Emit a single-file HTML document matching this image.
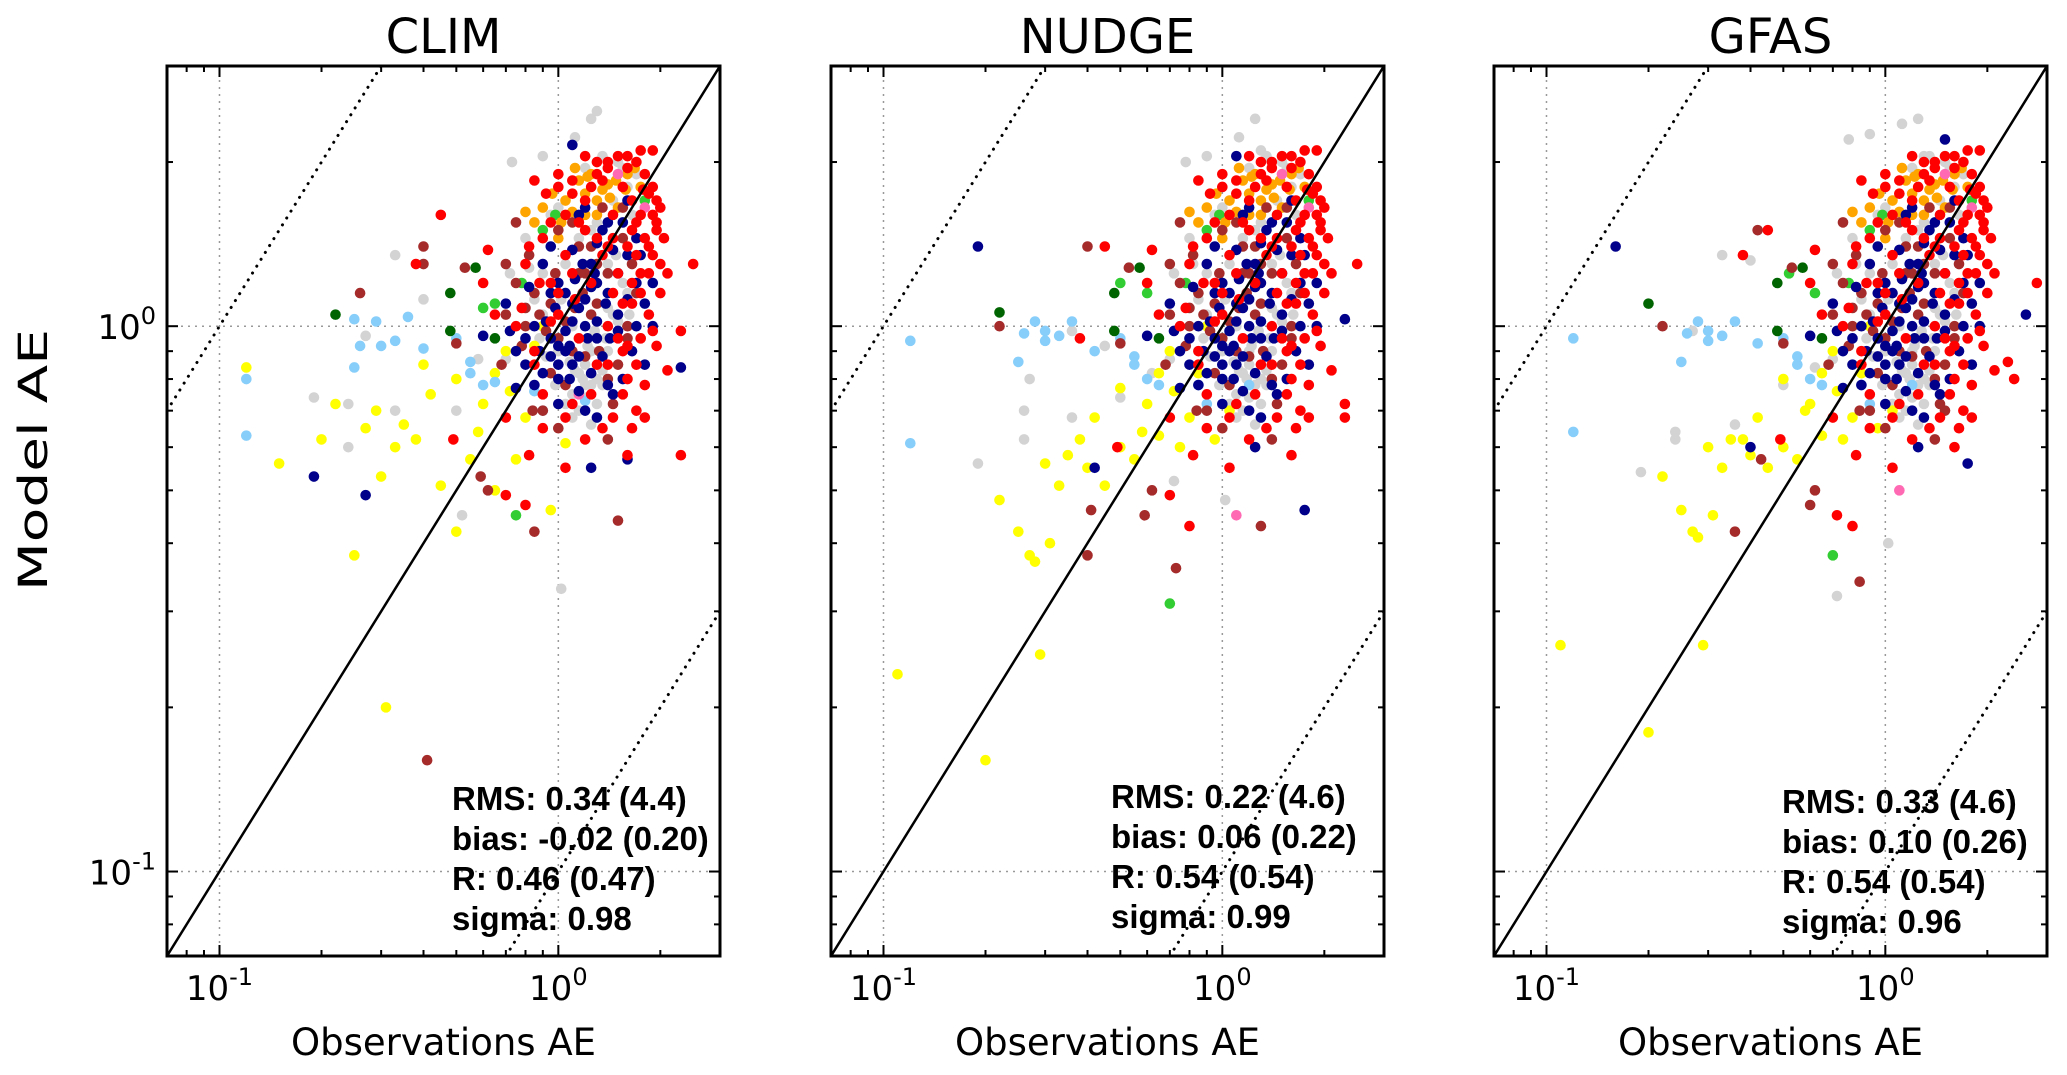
<!DOCTYPE html>
<html><head><meta charset="utf-8">
<style>
html,body{margin:0;padding:0;background:#fff;}
svg{display:block;font-family:"Liberation Sans",Arial,sans-serif;}
</style></head>
<body>
<svg id="chart" width="2067" height="1075" viewBox="0 0 2067 1075" xmlns="http://www.w3.org/2000/svg">
<text x="36" y="460" transform="rotate(-90 36 460)" text-anchor="middle" dominant-baseline="middle" font-size="40" textLength="262" lengthAdjust="spacingAndGlyphs" style="font-family:'DejaVu Sans',sans-serif">Model AE</text>
</svg>
<script>
const panelTitles = ["CLIM", "NUDGE", "GFAS"];
const statLines = [
  ["RMS: 0.34 (4.4)", "bias: -0.02 (0.20)", "R: 0.46 (0.47)", "sigma: 0.98"],
  ["RMS: 0.22 (4.6)", "bias: 0.06 (0.22)", "R: 0.54 (0.54)", "sigma: 0.99"],
  ["RMS: 0.33 (4.6)", "bias: 0.10 (0.26)", "R: 0.54 (0.54)", "sigma: 0.96"]
];
const axisMin = 0.07, axisMax = 3;
const majorTicks = [0.1, 1];
const majorTickExp = ["-1", "0"];
const minorTicks = [0.08, 0.09, 0.2, 0.3, 0.4, 0.5, 0.6, 0.7, 0.8, 0.9, 2, 3];
const seriesNames = ["gray","yellow","sky","darkgreen","green","orange","brown","pink","navy","red"];
const seriesColors = ["#d3d3d3","#ffff00","#87cefa","#006400","#32cd32","#ffa500","#a52a2a","#ff69b4","#00008b","#ff0000"];

const clusterGray = [[1.05,0.72],[1.1,0.75],[1.15,0.7],[1.2,0.74],[1.25,0.78],[1.18,0.8],[1.12,0.83],[1.08,0.86],[1.3,0.72],[1.35,0.83],[1.22,0.92],[1.28,0.98],[1.4,1.08],[1.5,1.02],[1.55,1.2],[1.0,0.9],[0.92,0.88],[0.85,1.12],[0.9,1.25],[1.05,1.3],[1.15,1.45],[1.3,1.55],[1.45,1.7],[1.55,1.95],[1.7,1.9],[1.35,2.05],[1.2,1.95],[0.95,1.6],[0.8,1.45],[0.72,1.25],[1.62,1.05],[1.75,0.95],[1.1,0.68],[1.25,0.66],[0.98,0.78],[1.38,0.95],[1.48,1.35],[1.65,1.6],[0.88,0.95],[1.02,1.12]];
const clusterOrange = [[1.15,1.85],[1.22,1.88],[1.35,1.78],[1.42,1.72],[1.48,1.85],[1.05,1.7],[0.9,1.65],[0.85,1.55],[1.0,1.45],[1.3,1.6],[1.58,1.78],[1.68,1.95],[0.8,1.62],[1.12,1.95],[1.2,1.6]];
const clusterBrown = [[0.85,1.15],[0.88,1.05],[0.92,0.98],[1.0,0.95],[1.05,1.02],[1.12,1.08],[1.18,1.15],[1.25,1.05],[1.32,0.9],[1.4,0.8],[1.05,0.78],[0.95,0.82],[0.78,0.92],[0.7,1.05],[0.75,1.2],[0.82,1.35],[1.0,1.5],[1.1,1.55],[1.25,1.4],[1.4,1.25],[1.55,1.45],[1.65,1.3],[1.7,1.15],[1.5,0.85],[1.2,0.88],[0.98,1.25],[1.35,1.65],[1.55,1.65],[0.9,0.7],[1.45,0.72],[0.68,0.85],[1.15,1.25],[1.3,1.3],[1.6,0.95],[0.8,1.08]];
const clusterNavy = [[0.85,0.78],[0.9,0.82],[0.95,0.88],[1.0,0.92],[1.05,0.98],[1.1,1.02],[1.15,1.08],[1.2,1.12],[1.25,1.18],[1.0,0.85],[1.08,0.8],[1.15,0.88],[1.22,0.95],[1.3,1.02],[1.38,1.1],[0.92,1.02],[0.98,1.08],[1.05,1.15],[1.12,1.22],[1.18,1.3],[0.88,0.9],[0.8,0.95],[0.75,0.9],[1.35,0.88],[1.42,0.95],[1.5,0.98],[1.6,1.12],[1.7,1.2],[1.45,1.38],[1.3,1.42],[1.1,1.38],[0.95,1.15],[1.25,0.82],[1.4,0.78],[1.55,0.8],[1.65,0.9],[1.8,1.1],[1.2,1.65],[1.4,1.55],[1.55,1.55],[1.0,0.72],[1.15,0.76],[1.3,0.68],[0.82,1.18],[0.72,0.98],[1.75,1.35],[1.9,1.0],[1.6,1.7],[1.08,0.92],[1.28,1.25]];
const clusterRed = [[1.3,1.9],[1.4,1.95],[1.5,2.05],[1.6,1.95],[1.7,2.0],[1.8,1.9],[1.85,1.75],[1.9,1.8],[1.95,1.7],[2.0,1.65],[1.75,1.6],[1.65,1.5],[1.6,1.4],[1.7,1.35],[1.8,1.45],[1.9,1.35],[2.0,1.3],[1.85,1.25],[1.75,1.15],[1.65,1.2],[1.55,1.1],[1.45,1.15],[1.5,0.95],[1.6,0.92],[1.7,0.85],[1.75,0.95],[1.9,0.98],[1.2,1.7],[1.1,1.85],[1.0,1.8],[0.92,1.75],[0.95,1.55],[1.05,1.6],[1.15,1.55],[1.3,1.45],[1.35,1.35],[1.25,1.2],[1.45,1.45],[0.82,1.4],[0.88,1.2],[0.95,1.02],[1.0,1.15],[0.78,1.08],[0.85,0.85],[1.1,0.72],[1.2,0.62],[1.35,0.65],[1.45,0.68],[1.65,0.65],[1.8,0.68],[1.55,0.75],[1.4,0.85],[1.25,0.75],[0.9,0.65],[1.05,0.68],[1.12,1.12],[1.55,1.8],[1.78,1.78],[1.95,1.55],[2.05,1.45]];

const climGray = [[0.19,0.74],[0.24,0.72],[0.24,0.6],[0.27,0.96],[0.33,0.7],[0.33,1.35],[0.4,1.12],[0.5,0.7],[0.58,0.87],[1.02,0.33],[0.52,0.45],[0.82,1.28],[0.73,2.0],[0.9,2.05],[1.12,2.22],[1.25,2.4],[1.3,2.48],[1.25,1.5],[1.15,0.82],[1.2,0.85],[1.3,0.8],[1.4,0.9],[1.1,1.0],[1.6,1.15],[0.9,1.05],[1.4,1.3],[0.7,0.87],[1.35,0.78],[1.0,1.65],[1.2,0.78],[1.25,0.9],[1.45,1.05],[1.6,1.8],[1.5,2.0]];
const climYellow = [[0.12,0.84],[0.15,0.56],[0.25,0.38],[0.31,0.2],[0.2,0.62],[0.22,0.72],[0.27,0.65],[0.3,0.53],[0.33,0.6],[0.38,0.62],[0.42,0.75],[0.45,0.51],[0.5,0.8],[0.55,0.57],[0.6,0.72],[0.65,0.5],[0.5,0.42],[0.75,0.57],[0.8,0.68],[0.95,0.46],[0.72,0.76],[0.85,0.92],[0.35,0.66],[0.29,0.7],[1.05,0.61],[0.65,0.82],[0.7,0.9],[0.9,1.0],[0.4,0.85],[0.58,0.64]];
const climSky = [[0.12,0.8],[0.12,0.63],[0.25,1.03],[0.29,1.02],[0.36,1.04],[0.3,0.92],[0.33,0.94],[0.25,0.84],[0.4,0.91],[0.26,0.92],[0.5,0.95],[0.55,0.82],[0.6,0.78],[0.65,0.79],[0.55,0.86],[1.2,0.73],[0.85,0.76],[0.9,0.7]];
const climDarkgreen = [[0.22,1.05],[0.48,1.15],[0.57,1.28],[0.48,0.98],[0.65,0.95]];
const climGreen = [[0.6,1.08],[0.75,0.45],[0.65,1.1],[0.9,1.5],[0.98,1.6],[1.8,1.7],[0.78,1.2]];
const climOrange = [[1.02,1.55],[1.2,1.75],[1.4,1.82],[1.5,1.65],[0.96,1.75],[1.1,1.62],[1.3,1.7],[1.6,1.9],[1.75,1.8],[1.25,1.9]];
const climBrown = [[0.26,1.15],[0.4,1.4],[0.4,1.3],[0.53,1.28],[0.59,0.53],[0.85,0.42],[0.41,0.16],[1.5,0.44],[0.84,0.7],[0.95,1.1],[1.1,0.9],[1.2,1.25],[0.75,1.55],[0.62,0.5],[0.5,0.93],[1.4,0.62],[1.0,0.65],[0.8,1.0],[1.15,1.4],[1.3,1.1],[1.6,1.0],[0.7,1.3]];
const climPink = [[1.5,1.9],[1.15,0.75],[1.8,1.65]];
const climNavy = [[0.19,0.53],[0.27,0.49],[1.25,0.55],[1.6,0.57],[1.1,2.15],[2.3,0.84],[0.6,0.96],[0.75,0.77],[0.85,1.0],[0.95,0.95],[1.0,1.2],[1.05,0.9],[1.1,1.1],[1.2,1.0],[1.25,1.3],[1.3,0.95],[1.4,1.15],[1.5,1.05],[1.6,1.35],[1.7,1.0],[1.8,0.85],[1.9,1.2],[0.9,1.3],[1.15,1.6],[1.35,1.5],[0.8,0.85],[1.0,0.8],[1.2,0.7],[1.45,0.75],[1.7,1.45],[0.7,1.1],[1.3,1.2],[1.1,0.85],[0.95,1.4],[1.5,1.25]];
const climRed = [[0.49,0.62],[0.45,1.6],[0.38,1.3],[0.62,1.38],[0.85,1.85],[0.7,0.49],[0.8,0.47],[0.82,0.58],[0.9,0.75],[1.8,0.78],[1.6,0.58],[2.3,0.58],[2.3,0.98],[2.5,1.3],[2.1,1.25],[2.0,1.15],[1.95,0.92],[2.1,0.83],[1.9,2.1],[1.75,2.1],[1.6,2.05],[1.3,2.0],[1.0,1.9],[1.1,1.75],[1.2,1.5],[1.4,1.4],[1.5,1.25],[1.7,1.55],[1.85,1.4],[1.9,1.6],[1.65,1.7],[1.25,1.8],[1.05,1.35],[0.95,1.2],[0.9,1.45],[0.8,1.3],[0.75,1.0],[0.85,0.9],[1.0,1.05],[1.1,1.25],[1.15,0.95],[1.3,0.85],[1.4,1.0],[1.55,0.9],[1.65,1.1],[1.75,1.25],[1.85,1.05],[1.95,1.5],[1.45,1.6],[1.35,1.85],[0.7,0.68],[0.65,1.05],[1.6,0.8],[1.05,0.55],[1.7,0.7],[0.6,1.2],[1.4,2.0],[1.2,2.05]];

const nudgeGray = [[0.19,0.56],[0.26,0.62],[0.26,0.7],[0.27,0.8],[0.36,0.68],[0.36,0.98],[0.45,0.92],[0.5,0.74],[0.62,0.82],[1.02,0.48],[0.72,0.52],[0.82,1.3],[0.78,2.0],[0.9,2.05],[1.12,2.22],[1.25,2.4],[1.3,2.1],[1.25,1.5],[1.15,0.82],[1.2,0.85],[1.3,0.8],[1.4,0.9],[1.1,1.0],[1.6,1.15],[0.9,1.05],[1.4,1.3],[0.7,0.87],[1.35,0.78],[1.0,1.65],[1.2,0.9],[1.25,0.95],[1.45,1.05],[1.6,1.8],[1.5,2.0]];
const nudgeYellow = [[0.11,0.23],[0.2,0.16],[0.25,0.42],[0.29,0.25],[0.22,0.48],[0.27,0.38],[0.28,0.37],[0.31,0.4],[0.3,0.56],[0.38,0.62],[0.42,0.68],[0.45,0.51],[0.5,0.77],[0.55,0.57],[0.6,0.72],[0.65,0.63],[0.5,0.6],[0.75,0.6],[0.8,0.68],[0.95,0.62],[0.72,0.76],[0.85,0.82],[0.35,0.58],[0.33,0.51],[1.05,0.7],[0.65,0.82],[0.7,0.9],[0.9,1.0],[0.4,0.55],[0.58,0.64]];
const nudgeSky = [[0.12,0.94],[0.12,0.61],[0.26,0.97],[0.3,0.98],[0.36,1.02],[0.3,0.94],[0.33,0.96],[0.25,0.86],[0.42,0.9],[0.28,1.02],[0.5,0.95],[0.55,0.85],[0.6,0.8],[0.65,0.78],[0.55,0.88],[1.2,0.78],[0.85,0.78],[0.9,0.72]];
const nudgeDarkgreen = [[0.22,1.06],[0.48,1.15],[0.57,1.28],[0.48,0.98],[0.65,0.95]];
const nudgeGreen = [[0.5,1.2],[0.7,0.31],[0.6,1.15],[0.9,1.5],[0.98,1.6],[1.8,1.7],[0.78,1.2]];
const nudgeOrange = [[1.02,1.55],[1.2,1.75],[1.4,1.82],[1.5,1.65],[0.96,1.75],[1.1,1.62],[1.3,1.7],[1.6,1.9],[1.75,1.8],[1.25,1.9]];
const nudgeBrown = [[0.22,1.0],[0.4,1.4],[0.4,0.38],[0.53,1.28],[0.59,0.45],[0.73,0.36],[0.41,0.46],[1.3,0.43],[0.84,0.7],[0.95,1.1],[1.1,0.9],[1.2,1.25],[0.75,1.55],[0.62,0.5],[0.5,0.93],[1.4,0.62],[1.0,0.65],[0.8,1.0],[1.15,1.4],[1.3,1.1],[1.6,1.0],[0.7,1.3]];
const nudgePink = [[1.5,1.9],[1.1,0.45],[1.8,1.65]];
const nudgeNavy = [[0.19,1.4],[0.42,0.55],[1.25,0.6],[1.75,0.46],[1.1,2.05],[2.3,1.03],[0.6,0.96],[0.75,0.77],[0.85,1.0],[0.95,0.95],[1.0,1.2],[1.05,0.9],[1.1,1.1],[1.2,1.0],[1.25,1.3],[1.3,0.95],[1.4,1.15],[1.5,1.05],[1.6,1.35],[1.7,1.0],[1.8,0.85],[1.9,1.2],[0.9,1.3],[1.15,1.6],[1.35,1.5],[0.8,0.85],[1.0,0.8],[1.2,0.7],[1.45,0.75],[1.7,1.45],[0.7,1.1],[1.3,1.2],[1.1,0.85],[0.95,1.4],[1.5,1.25]];
const nudgeRed = [[0.49,0.6],[0.45,1.4],[0.38,0.95],[0.62,1.38],[0.85,1.85],[0.7,0.49],[0.8,0.43],[0.82,0.58],[0.9,0.75],[1.8,0.78],[1.6,0.58],[2.3,0.72],[2.3,0.68],[2.5,1.3],[2.1,1.25],[2.0,1.15],[1.95,0.92],[2.1,0.83],[1.9,2.1],[1.75,2.1],[1.6,2.05],[1.3,2.0],[1.0,1.9],[1.1,1.75],[1.2,1.5],[1.4,1.4],[1.5,1.25],[1.7,1.55],[1.85,1.4],[1.9,1.6],[1.65,1.7],[1.25,1.8],[1.05,1.35],[0.95,1.2],[0.9,1.45],[0.8,1.3],[0.75,1.0],[0.85,0.9],[1.0,1.05],[1.1,1.25],[1.15,0.95],[1.3,0.85],[1.4,1.0],[1.55,0.9],[1.65,1.1],[1.75,1.25],[1.85,1.05],[1.95,1.5],[1.45,1.6],[1.35,1.85],[0.7,0.68],[0.65,1.05],[1.6,0.8],[1.05,0.55],[1.7,0.7],[0.6,1.2],[1.4,2.0],[1.2,2.05]];

const gfasGray = [[0.19,0.54],[0.24,0.64],[0.24,0.62],[0.27,0.98],[0.36,0.66],[0.33,1.35],[0.4,1.32],[0.5,0.78],[0.62,0.84],[1.02,0.4],[0.72,0.32],[0.82,1.3],[0.78,2.2],[0.9,2.25],[1.12,2.35],[1.25,2.4],[1.3,2.05],[1.25,1.5],[1.15,0.82],[1.2,0.85],[1.3,0.8],[1.4,0.9],[1.1,1.0],[1.6,1.15],[0.9,1.05],[1.4,1.3],[0.7,0.87],[1.35,0.78],[1.0,1.65],[1.2,0.9],[1.25,0.95],[1.45,1.05],[1.6,1.8],[1.5,2.0]];
const gfasYellow = [[0.11,0.26],[0.2,0.18],[0.25,0.46],[0.29,0.26],[0.22,0.53],[0.27,0.42],[0.28,0.41],[0.31,0.45],[0.3,0.6],[0.38,0.62],[0.42,0.68],[0.45,0.55],[0.5,0.8],[0.55,0.57],[0.6,0.72],[0.65,0.63],[0.5,0.6],[0.75,0.62],[0.8,0.68],[0.95,0.65],[0.72,0.76],[0.85,0.82],[0.35,0.62],[0.33,0.55],[1.05,0.7],[0.65,0.82],[0.7,0.9],[0.9,1.0],[0.4,0.58],[0.58,0.7]];
const gfasSky = [[0.12,0.95],[0.12,0.64],[0.26,0.97],[0.3,0.98],[0.36,1.02],[0.3,0.94],[0.33,0.96],[0.25,0.86],[0.42,0.93],[0.28,1.02],[0.5,0.95],[0.55,0.85],[0.6,0.8],[0.65,0.78],[0.55,0.88],[1.2,0.78],[0.85,0.78],[0.9,0.72]];
const gfasDarkgreen = [[0.2,1.1],[0.48,1.2],[0.57,1.28],[0.48,0.98],[0.65,0.95]];
const gfasGreen = [[0.52,1.25],[0.7,0.38],[0.62,1.15],[0.9,1.5],[0.98,1.6],[1.8,1.7],[0.78,1.2]];
const gfasOrange = [[1.02,1.55],[1.2,1.75],[1.4,1.82],[1.5,1.65],[0.96,1.75],[1.1,1.62],[1.3,1.7],[1.6,1.9],[1.75,1.8],[1.25,1.9]];
const gfasBrown = [[0.22,1.0],[0.42,1.5],[0.36,0.42],[0.53,1.28],[0.6,0.47],[0.84,0.34],[0.43,0.57],[1.5,0.7],[0.84,0.7],[0.95,1.1],[1.1,0.9],[1.2,1.25],[0.75,1.55],[0.62,0.5],[0.5,0.93],[1.4,0.62],[1.0,0.65],[0.8,1.0],[1.15,1.4],[1.3,1.1],[1.6,1.0],[0.7,1.3]];
const gfasPink = [[1.5,1.9],[1.1,0.5],[1.8,1.65]];
const gfasNavy = [[0.16,1.4],[0.4,0.6],[1.25,0.6],[1.75,0.56],[1.5,2.2],[2.6,1.05],[0.6,0.96],[0.75,0.77],[0.85,1.0],[0.95,0.95],[1.0,1.2],[1.05,0.9],[1.1,1.1],[1.2,1.0],[1.25,1.3],[1.3,0.95],[1.4,1.15],[1.5,1.05],[1.6,1.35],[1.7,1.0],[1.8,0.85],[1.9,1.2],[0.9,1.3],[1.15,1.6],[1.35,1.5],[0.8,0.85],[1.0,0.8],[1.2,0.7],[1.45,0.75],[1.7,1.45],[0.7,1.1],[1.3,1.2],[1.1,0.85],[0.95,1.4],[1.5,1.25]];
const gfasRed = [[0.49,0.62],[0.45,1.5],[0.38,1.35],[0.62,1.38],[0.85,1.85],[0.72,0.45],[0.8,0.43],[0.82,0.58],[0.9,0.75],[1.8,0.78],[1.6,0.6],[2.3,0.86],[2.4,0.8],[2.8,1.2],[2.1,1.25],[2.0,1.15],[1.95,0.92],[2.1,0.83],[1.9,2.1],[1.75,2.1],[1.6,2.05],[1.3,2.0],[1.0,1.9],[1.1,1.75],[1.2,1.5],[1.4,1.4],[1.5,1.25],[1.7,1.55],[1.85,1.4],[1.9,1.6],[1.65,1.7],[1.25,1.8],[1.05,1.35],[0.95,1.2],[0.9,1.45],[0.8,1.3],[0.75,1.0],[0.85,0.9],[1.0,1.05],[1.1,1.25],[1.15,0.95],[1.3,0.85],[1.4,1.0],[1.55,0.9],[1.65,1.1],[1.75,1.25],[1.85,1.05],[1.95,1.5],[1.45,1.6],[1.35,1.85],[0.7,0.68],[0.65,1.05],[1.6,0.8],[1.05,0.55],[1.7,0.7],[0.6,1.2],[1.4,2.0],[1.2,2.05]];

const panelData = [
  [climGray, climYellow, climSky, climDarkgreen, climGreen, climOrange, climBrown, climPink, climNavy, climRed],
  [nudgeGray, nudgeYellow, nudgeSky, nudgeDarkgreen, nudgeGreen, nudgeOrange, nudgeBrown, nudgePink, nudgeNavy, nudgeRed],
  [gfasGray, gfasYellow, gfasSky, gfasDarkgreen, gfasGreen, gfasOrange, gfasBrown, gfasPink, gfasNavy, gfasRed]
];
const clusterData = [clusterGray, [], [], [], [], clusterOrange, clusterBrown, [], clusterNavy, clusterRed];

const NS = "http://www.w3.org/2000/svg";
const svg = document.getElementById("chart");
const panelLefts = [167, 831, 1494];
const PW = 553, PT = 66, PH = 890;
const lmin = Math.log10(axisMin), lmax = Math.log10(axisMax);
function mk(tag, attrs, parent) {
  const e = document.createElementNS(NS, tag);
  for (const k in attrs) e.setAttribute(k, attrs[k]);
  (parent || svg).appendChild(e);
  return e;
}
panelLefts.forEach((L, p) => {
  const xs = v => L + (Math.log10(v) - lmin) / (lmax - lmin) * PW;
  const ys = v => PT + PH - (Math.log10(v) - lmin) / (lmax - lmin) * PH;
  const g = mk("g", {});
  
  
  const clipId = "clip" + p;
  const cp = mk("clipPath", {id: clipId}, g);
  mk("rect", {x: L, y: PT, width: PW, height: PH}, cp);
  majorTicks.forEach(v => {
    const gx = mk("line", {x1: xs(v), x2: xs(v), y1: PT, y2: PT + PH, stroke: "#999", "stroke-width": 1.5, "stroke-dasharray": "2,5"}, g);
    
    
    const gy = mk("line", {x1: L, x2: L + PW, y1: ys(v), y2: ys(v), stroke: "#999", "stroke-width": 1.5, "stroke-dasharray": "2,5"}, g);
    
    
  });
  const inner = mk("g", {"clip-path": "url(#" + clipId + ")"}, g);
  const drawSeries = (pts, s) => pts.forEach(pt => {
    const c = mk("circle", {cx: xs(pt[0]), cy: ys(pt[1]), r: 5.3, fill: seriesColors[s]}, inner);
    
    
  });
  [0, 1, 2, 3, 4, 5, 6, 7, 8, 9].forEach(s => {
    drawSeries(clusterData[s], s);
    drawSeries(panelData[p][s], s);
  });
  const d1 = mk("line", {x1: xs(axisMin), y1: ys(axisMin), x2: xs(axisMax), y2: ys(axisMax), stroke: "#000", "stroke-width": 2.5}, inner);
  
  
  const d2 = mk("line", {x1: xs(axisMin), y1: ys(axisMin * 10), x2: xs(axisMax / 10), y2: ys(axisMax), stroke: "#000", "stroke-width": 3, "stroke-dasharray": "0.1,8", "stroke-linecap": "round"}, inner);
  
  
  const d3 = mk("line", {x1: xs(axisMin * 10), y1: ys(axisMin), x2: xs(axisMax), y2: ys(axisMax / 10), stroke: "#000", "stroke-width": 3, "stroke-dasharray": "0.1,8", "stroke-linecap": "round"}, inner);
  
  
  const tickSet = (vals, len) => vals.forEach(v => {
    if (v <= axisMin || v >= axisMax) return;
    const x = xs(v), y = ys(v);
    [[x, PT + PH, x, PT + PH - len], [x, PT, x, PT + len], [L, y, L + len, y], [L + PW, y, L + PW - len, y]].forEach(a => {
      const t = mk("line", {x1: a[0], y1: a[1], x2: a[2], y2: a[3], stroke: "#000", "stroke-width": 2}, g);
      
      
    });
  });
  tickSet(majorTicks, 11);
  tickSet(minorTicks, 6);
  const fr = mk("rect", {x: L, y: PT, width: PW, height: PH, fill: "none", stroke: "#000", "stroke-width": 3}, g);
  
  
  majorTicks.forEach((v, i) => {
    const tx = mk("text", {x: xs(v), y: 1000, "text-anchor": "middle", "font-size": 34, style: "font-family:'DejaVu Sans',sans-serif"}, g);
    
    
    tx.innerHTML = '10<tspan dy="-15" font-size="24">' + majorTickExp[i] + '</tspan>';
    if (p === 0) {
      const ty = mk("text", {x: 156, y: ys(v) + 13, "text-anchor": "end", "font-size": 34, style: "font-family:'DejaVu Sans',sans-serif"}, g);
      
      
      ty.innerHTML = '10<tspan dy="-15" font-size="24">' + majorTickExp[i] + '</tspan>';
    }
  });
  const tt = mk("text", {x: L + PW / 2, y: 53, "text-anchor": "middle", "font-size": 48, style: "font-family:'DejaVu Sans',sans-serif"}, g);
  
  
  tt.textContent = panelTitles[p];
  const xt = mk("text", {x: L + PW / 2, y: 1055, "text-anchor": "middle", "font-size": 37, style: "font-family:'DejaVu Sans',sans-serif"}, g);
  
  
  xt.textContent = "Observations AE";
  const offs = [[285, 810], [280, 808], [288, 813]];
  statLines[p].forEach((s, i) => {
    const st = mk("text", {x: L + offs[p][0], y: offs[p][1] + i * 40, "font-size": 33, "font-weight": "bold"}, g);
    
    
    st.textContent = s;
  });
});
</script>
</body></html>
